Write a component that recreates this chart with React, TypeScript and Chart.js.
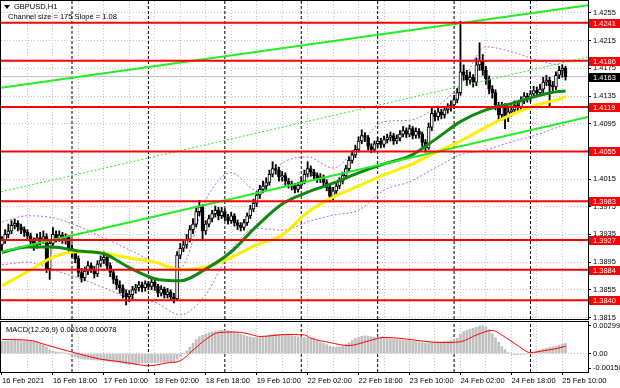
import React, { useEffect, useRef } from 'react';
import { Chart, registerables } from 'chart.js';

Chart.register(...registerables);

const FONT_FAMILY = '"Liberation Sans", Arial, sans-serif';
const FONT_SIZE = 7.5;

// ---------------- data ----------------
const titleText = 'GBPUSD,H1';
const channelText = 'Channel size = 175 Slope = 1.08';
const macdText = 'MACD(12,26,9) 0.00108 0.00078';

const firstOpen = 1.392;
const closes = [
  1.3927, 1.3935, 1.3940, 1.3948, 1.3951, 1.3946, 1.3942, 1.3938, 1.3933, 1.3925,
  1.3920, 1.3930, 1.3928, 1.3932, 1.3885, 1.3922, 1.3935, 1.3930, 1.3934, 1.3928,
  1.3931, 1.3915, 1.3908, 1.3900, 1.3880, 1.3872, 1.3882, 1.3890, 1.3885, 1.3878,
  1.3892, 1.3898, 1.3902, 1.3890, 1.3880, 1.3870, 1.3862, 1.3858, 1.3850, 1.3845,
  1.3848, 1.3855, 1.3858, 1.3862, 1.3858, 1.3864, 1.3860, 1.3866, 1.3860, 1.3850,
  1.3856, 1.3848, 1.3852, 1.3845, 1.3842, 1.3905, 1.3915, 1.3920, 1.3928, 1.3942,
  1.3950, 1.3968, 1.3975, 1.3940, 1.3950, 1.3958, 1.3965, 1.3970, 1.3962, 1.3968,
  1.3960, 1.3955, 1.3962, 1.3952, 1.3948, 1.3945, 1.3952, 1.3962, 1.3972, 1.3980,
  1.3992, 1.4000, 1.4005, 1.4010, 1.4022, 1.4030, 1.4028, 1.4018, 1.4020, 1.4012,
  1.4008, 1.4005, 1.4000, 1.4006, 1.4012, 1.4022, 1.4030, 1.4025, 1.4020, 1.4015,
  1.4018, 1.4010, 1.4003, 1.3990, 1.3998, 1.4005, 1.4012, 1.4020, 1.4030, 1.4042,
  1.4050, 1.4058, 1.4070, 1.4078, 1.4075, 1.4062, 1.4058, 1.4066, 1.4070, 1.4065,
  1.4072, 1.4075, 1.4078, 1.4070, 1.4074, 1.4080, 1.4085, 1.4080, 1.4088, 1.4078,
  1.4084, 1.4080, 1.4068, 1.4060, 1.4090, 1.4110, 1.4105, 1.4112, 1.4108, 1.4115,
  1.4118, 1.4122, 1.4130, 1.4140, 1.4170, 1.4165, 1.4158, 1.4162, 1.4155, 1.4180,
  1.4185, 1.4172, 1.4160, 1.4145, 1.4140, 1.4122, 1.4108, 1.4120, 1.4105, 1.4112,
  1.4115, 1.4122, 1.4118, 1.4128, 1.4135, 1.4132, 1.4138, 1.4143, 1.4140, 1.4145,
  1.4155, 1.4158, 1.4150, 1.4148, 1.4165, 1.4172, 1.4175, 1.4163,
];
const highs = [
  1.3932, 1.3942, 1.3950, 1.3955, 1.3957, 1.3955, 1.3950, 1.3946, 1.3942, 1.3937,
  1.3930, 1.3936, 1.3938, 1.3940, 1.3936, 1.3928, 1.3945, 1.3940, 1.3940, 1.3938,
  1.3936, 1.3934, 1.3920, 1.3912, 1.3904, 1.3886, 1.3888, 1.3896, 1.3894, 1.3889,
  1.3897, 1.3904, 1.3910, 1.3906, 1.3894, 1.3884, 1.3875, 1.3868, 1.3862, 1.3855,
  1.3854, 1.3860, 1.3863, 1.3867, 1.3866, 1.3868, 1.3867, 1.3870, 1.3869, 1.3863,
  1.3861, 1.3859, 1.3857, 1.3855, 1.3850, 1.3910, 1.3922, 1.3928, 1.3935, 1.3948,
  1.3958, 1.3975, 1.3984, 1.3978, 1.3955, 1.3963, 1.3970, 1.3976, 1.3974, 1.3974,
  1.3972, 1.3964, 1.3967, 1.3965, 1.3956, 1.3952, 1.3957, 1.3966, 1.3977, 1.3986,
  1.3997, 1.4006, 1.4012, 1.4017, 1.4028, 1.4040, 1.4036, 1.4032, 1.4026, 1.4024,
  1.4016, 1.4012, 1.4009, 1.4010, 1.4018, 1.4028, 1.4040, 1.4034, 1.4029, 1.4024,
  1.4023, 1.4021, 1.4014, 1.4006, 1.4003, 1.4010, 1.4017, 1.4025, 1.4035, 1.4047,
  1.4056, 1.4064, 1.4076, 1.4086, 1.4082, 1.4078, 1.4066, 1.4070, 1.4075, 1.4074,
  1.4077, 1.4080, 1.4083, 1.4081, 1.4079, 1.4085, 1.4091, 1.4089, 1.4093, 1.4091,
  1.4089, 1.4088, 1.4083, 1.4072, 1.4096, 1.4118, 1.4114, 1.4118, 1.4116, 1.4120,
  1.4124, 1.4128, 1.4136, 1.4146, 1.4243, 1.4180, 1.4172, 1.4170, 1.4166, 1.4190,
  1.4212, 1.4195, 1.4178, 1.4164, 1.4150, 1.4144, 1.4126, 1.4126, 1.4124, 1.4118,
  1.4121, 1.4128, 1.4126, 1.4134, 1.4140, 1.4139, 1.4143, 1.4149, 1.4148, 1.4152,
  1.4162, 1.4165, 1.4162, 1.4156, 1.4170, 1.4178, 1.4180, 1.4178,
];
const lows = [
  1.3912, 1.3922, 1.3930, 1.3936, 1.3943, 1.3940, 1.3936, 1.3932, 1.3926, 1.3918,
  1.3912, 1.3915, 1.3920, 1.3922, 1.3880, 1.3870, 1.3915, 1.3924, 1.3925, 1.3922,
  1.3921, 1.3910, 1.3902, 1.3894, 1.3874, 1.3866, 1.3868, 1.3877, 1.3880, 1.3872,
  1.3874, 1.3888, 1.3893, 1.3884, 1.3874, 1.3864, 1.3856, 1.3850, 1.3843, 1.3833,
  1.3838, 1.3842, 1.3850, 1.3853, 1.3852, 1.3853, 1.3855, 1.3855, 1.3854, 1.3845,
  1.3846, 1.3843, 1.3843, 1.3840, 1.3836, 1.3840, 1.3900, 1.3910, 1.3915, 1.3924,
  1.3936, 1.3946, 1.3962, 1.3926, 1.3935, 1.3946, 1.3953, 1.3960, 1.3956, 1.3958,
  1.3955, 1.3950, 1.3951, 1.3947, 1.3942, 1.3940, 1.3941, 1.3948, 1.3958, 1.3968,
  1.3975, 1.3987, 1.3995, 1.4000, 1.4006, 1.4018, 1.4022, 1.4012, 1.4012, 1.4006,
  1.4002, 1.3999, 1.3995, 1.3996, 1.4002, 1.4008, 1.4018, 1.4019, 1.4014, 1.4010,
  1.4010, 1.4005, 1.3998, 1.3982, 1.3985, 1.3994, 1.4001, 1.4008, 1.4016, 1.4026,
  1.4038, 1.4046, 1.4054, 1.4066, 1.4069, 1.4057, 1.4053, 1.4054, 1.4061, 1.4060,
  1.4061, 1.4067, 1.4070, 1.4065, 1.4066, 1.4070, 1.4076, 1.4075, 1.4076, 1.4073,
  1.4074, 1.4074, 1.4062, 1.4054, 1.4058, 1.4085, 1.4099, 1.4100, 1.4102, 1.4103,
  1.4110, 1.4113, 1.4117, 1.4125, 1.4136, 1.4158, 1.4150, 1.4152, 1.4148, 1.4150,
  1.4172, 1.4165, 1.4152, 1.4138, 1.4132, 1.4115, 1.4098, 1.4100, 1.4088, 1.4098,
  1.4106, 1.4110, 1.4112, 1.4113, 1.4124, 1.4126, 1.4127, 1.4133, 1.4134, 1.4135,
  1.4140, 1.4150, 1.4120, 1.4140, 1.4144, 1.4160, 1.4162, 1.4158,
];

// moving averages / bands read at every 8th bar
const maIdx = [0, 8, 16, 24, 32, 40, 48, 56, 64, 72, 80, 88, 96, 104, 112, 120, 128, 136, 144, 152, 160, 168, 176, 177];
const maGreen = [1.3909, 1.3917, 1.3917, 1.3911, 1.3907, 1.3887, 1.3871, 1.3868, 1.3885, 1.3910, 1.3947, 1.3979, 1.3996, 1.4009, 1.4024, 1.4037, 1.4048, 1.4072, 1.4098, 1.4115, 1.4124, 1.4135, 1.4142, 1.4142];
const maYellow = [1.3861, 1.3881, 1.3902, 1.3910, 1.3908, 1.3901, 1.3895, 1.3884, 1.3888, 1.3902, 1.3920, 1.3934, 1.3967, 1.3989, 1.4005, 1.4021, 1.4035, 1.4053, 1.4070, 1.4090, 1.4108, 1.4122, 1.4132, 1.4134];
const bandUpper = [1.3953, 1.3962, 1.3959, 1.3947, 1.3930, 1.3913, 1.3895, 1.3887, 1.3985, 1.4024, 1.3999, 1.4038, 1.4047, 1.4031, 1.4064, 1.4098, 1.4100, 1.4118, 1.4151, 1.4206, 1.4199, 1.4187, 1.4180, 1.4180];
const bandLower = [1.3891, 1.3895, 1.3884, 1.3872, 1.3858, 1.3843, 1.3837, 1.3819, 1.3848, 1.3913, 1.3944, 1.3941, 1.3953, 1.3963, 1.3970, 1.3999, 1.4011, 1.4031, 1.4050, 1.4057, 1.4069, 1.4079, 1.4092, 1.4093];

// channel (regression) lines: endpoints
const channelIdx = [-0.3, 184.06];
const channelUpper = [1.41468, 1.4266];
const channelMid = [1.39966, 1.41914];
const channelLower = [1.39099, 1.41047];

// horizontal levels
const levels = [1.4241, 1.4186, 1.4119, 1.4055, 1.3983, 1.3927, 1.3884, 1.384];
const bidPrice = 1.4163;

// MACD
const macdHist = [
  0.0013, 0.00132, 0.00135, 0.00138, 0.0014, 0.0014, 0.00138, 0.00136, 0.00134, 0.00132, 0.00128, 0.0012,
  0.00105, 0.0009, 0.0007,
  0.0004, 0.00025, 0.00018, 0.00012, 0.0001, 0.00008,
  -0.0001, -0.00025, -0.00035, -0.00045,
  -0.00055, -0.0006, -0.00062, -0.00065, -0.00068, -0.0007, -0.00072,
  -0.00075, -0.0008, -0.00085, -0.0009, -0.00095, -0.001, -0.00105, -0.0011, -0.00112, -0.0011,
  -0.00108, -0.00105, -0.00102, -0.001, -0.001, -0.00098, -0.00096,
  -0.00095, -0.00093, -0.00092, -0.0009, -0.0009, -0.00088,
  -0.0006, -0.0003, 0.0, 0.0003,
  0.0007, 0.0011, 0.0015, 0.0018,
  0.00195, 0.0021, 0.00222, 0.00232, 0.0024,
  0.00245, 0.00248, 0.00248, 0.00245, 0.00238,
  0.00228, 0.00218, 0.00205, 0.00195, 0.00185,
  0.00178, 0.00172, 0.0017, 0.00172,
  0.00178, 0.00188, 0.00198, 0.00205, 0.00208,
  0.00205, 0.00202, 0.00198, 0.00195, 0.0019, 0.00185, 0.0018,
  0.00175, 0.00172, 0.0017, 0.00165, 0.00155, 0.0014,
  0.00125, 0.0011, 0.00095, 0.0008, 0.0007,
  0.00068, 0.00072, 0.0008, 0.00095,
  0.00115, 0.0014, 0.0016, 0.00175, 0.00185,
  0.0019, 0.00188, 0.0018, 0.00175, 0.00172,
  0.0017, 0.00165, 0.0016, 0.00158, 0.00155, 0.0015,
  0.00148, 0.00145, 0.00142, 0.00138, 0.00135, 0.0013, 0.00125,
  0.00118, 0.00112, 0.00115, 0.0012, 0.00125,
  0.00128, 0.0013, 0.00132, 0.00135, 0.0014,
  0.0015, 0.00165, 0.0021, 0.00235,
  0.0025, 0.00262, 0.00272, 0.00282, 0.00295,
  0.00299, 0.00285, 0.00255,
  0.00215, 0.0017, 0.0012, 0.00075,
  0.0004, 0.0001, -0.00008,
  -0.00012, -0.0001, -0.00008, -0.00005,
  0.0, 0.00008, 0.00018, 0.00028,
  0.00038, 0.00048, 0.00058, 0.00065,
  0.00072, 0.0008, 0.0009, 0.001, 0.00108,
];
const sigIdx = [0, 9, 13, 18, 24, 31, 37, 43, 46, 52, 56, 60, 64, 68, 73, 77, 81, 85, 89, 95, 97, 103, 109, 115, 120, 126, 132, 138, 144, 149, 154, 157, 162, 166, 170, 174, 177];
const sigVals = [0.00151, 0.00141, 0.00102, 0.00053, -0.00002, -0.0006, -0.00086, -0.00119, -0.00131, -0.00099, -0.00077, 0.00037, 0.00151, 0.00225, 0.00231, 0.00215, 0.00183, 0.00192, 0.00205, 0.00199, 0.00166, 0.00118, 0.00086, 0.00134, 0.00173, 0.0016, 0.00134, 0.00118, 0.00127, 0.00199, 0.00248, 0.00199, 0.00086, 0.00011, 0.0003, 0.00053, 0.00078];

// axes
const XMIN = -0.3;
const XMAX = 184.06;
const PMIN = 1.38128;
const PMAX = 1.42723;
const MMIN = -0.00197;
const MMAX = 0.00338;
const priceTicks = [1.3815, 1.3855, 1.3895, 1.3935, 1.3975, 1.4015, 1.4055, 1.4095, 1.4135, 1.4175, 1.4215, 1.4255];
const priceTickLabels = ['1.3815', '1.3855', '1.3895', '1.3935', '1.3975', '1.4015', '1.4055', '1.4095', '1.4135', '1.4175', '1.4215', '1.4255'];
const macdTicks = [-0.00158, 0, 0.00299];
const macdTickLabels = ['-0.00158', '0.00', '0.00299'];
const dateTickIdx = [0, 16, 32, 48, 64, 80, 96, 112, 128, 144, 160, 176];
const dateTickLabels = ['16 Feb 2021', '16 Feb 18:00', '17 Feb 10:00', '18 Feb 02:00', '18 Feb 18:00', '19 Feb 10:00', '22 Feb 02:00', '22 Feb 18:00', '23 Feb 10:00', '24 Feb 02:00', '24 Feb 18:00', '25 Feb 10:00'];
const gridIdx = [8, 16, 24, 32, 40, 48, 56, 64, 72, 80, 88, 96, 104, 112, 120, 128, 136, 144, 152, 160, 168, 176];
const daySepIdx = [22, 46, 70, 94, 118, 142, 166];

// ---------------- layout ----------------
const W = 620;
const MAIN_H = 320;
const MACD_TOP = 321;
const MACD_H = 67;
const AXIS_W = 32;
const GRID = '#c4c4c4';

const font = { family: FONT_FAMILY, size: FONT_SIZE };
const fontStr = `${FONT_SIZE}px ${FONT_FAMILY}`;

function lineDs(xs: number[], ys: (number | null)[], color: string, width: number, order: number, extra: any = {}) {
  return {
    type: 'line',
    data: xs.map((x, i) => ({ x, y: ys[i] })),
    borderColor: color,
    borderWidth: width,
    pointRadius: 0,
    fill: false,
    tension: 0,
    order,
    ...extra,
  };
}

function sepDs(ymin: number, ymax: number) {
  const data: any[] = [];
  daySepIdx.forEach((i) => {
    data.push({ x: i, y: ymin }, { x: i, y: ymax }, { x: i, y: null });
  });
  return {
    type: 'line',
    data,
    borderColor: '#000',
    borderWidth: 1,
    borderDash: [3, 2],
    pointRadius: 0,
    spanGaps: false,
    fill: false,
    order: 20,
  };
}

const mainDecor = {
  id: 'mainDecor',
  afterDraw(chart: any) {
    const { ctx, chartArea: a } = chart;
    const y = chart.scales.y;
    ctx.save();
    ctx.strokeStyle = '#000';
    ctx.lineWidth = 1;
    ctx.strokeRect(a.left - 0.5, a.top - 0.5, a.right - a.left + 1, a.bottom - a.top + 1);
    ctx.font = fontStr;
    ctx.textBaseline = 'middle';
    ctx.textAlign = 'left';
    const tag = (v: number, bg: string) => {
      const py = y.getPixelForValue(v);
      ctx.fillStyle = bg;
      ctx.fillRect(a.right + 1, Math.round(py) - 4, AXIS_W - 1, 9);
      ctx.fillStyle = '#fff';
      ctx.fillText(v.toFixed(4), a.right + 5, Math.round(py) + 0.5);
    };
    levels.forEach((l) => tag(l, '#ff0000'));
    tag(bidPrice, '#000');
    ctx.fillStyle = '#000';
    ctx.fillText(titleText, 14, 7);
    ctx.fillText(channelText, 8, 17);
    ctx.beginPath();
    ctx.moveTo(4, 5);
    ctx.lineTo(10, 5);
    ctx.lineTo(7, 9);
    ctx.closePath();
    ctx.fill();
    ctx.restore();
  },
};

const macdDecor = {
  id: 'macdDecor',
  afterDraw(chart: any) {
    const { ctx, chartArea: a } = chart;
    ctx.save();
    ctx.strokeStyle = '#000';
    ctx.lineWidth = 1;
    ctx.strokeRect(a.left - 0.5, a.top - 0.5, a.right - a.left + 1, a.bottom - a.top + 1);
    ctx.font = fontStr;
    ctx.textBaseline = 'middle';
    ctx.textAlign = 'left';
    ctx.fillStyle = '#000';
    ctx.fillText(macdText, 6, 9);
    ctx.restore();
  },
};

function App() {
  const mainRef = useRef<HTMLCanvasElement>(null);
  const macdRef = useRef<HTMLCanvasElement>(null);

  useEffect(() => {
    Chart.defaults.color = '#000';
    Chart.defaults.font.family = FONT_FAMILY;
    Chart.defaults.font.size = FONT_SIZE;

    const opens = closes.map((c, i) => (i === 0 ? firstOpen : closes[i - 1]));
    const bodyColors = closes.map((c, i) => (c >= opens[i] ? '#ffffff' : '#000000'));

    const mainDatasets: any[] = [
      sepDs(PMIN, PMAX),
      lineDs([XMIN, XMAX], [bidPrice, bidPrice], '#c0c0c0', 1, 19),
      lineDs(maIdx, bandUpper, '#b566d8', 1, 18, { borderDash: [2, 2], cubicInterpolationMode: 'monotone' }),
      lineDs(maIdx, bandLower, '#b566d8', 1, 18, { borderDash: [2, 2], cubicInterpolationMode: 'monotone' }),
      {
        type: 'bar',
        data: closes.map((c, i) => ({ x: i, y: [lows[i], highs[i]] })),
        backgroundColor: '#000',
        borderWidth: 0,
        barThickness: 1.2,
        grouped: false,
        order: 17,
      },
      {
        type: 'bar',
        data: closes.map((c, i) => ({ x: i, y: [opens[i], c] })),
        backgroundColor: bodyColors,
        borderColor: '#000',
        borderWidth: 1,
        borderSkipped: false,
        barThickness: 3,
        minBarLength: 1,
        grouped: false,
        order: 16,
      },
      lineDs(maIdx, maYellow, '#ffee00', 3, 15, { cubicInterpolationMode: 'monotone' }),
      lineDs(maIdx, maGreen, '#118811', 3, 14, { cubicInterpolationMode: 'monotone' }),
      lineDs(channelIdx, channelUpper, '#22ee22', 2, 13),
      lineDs(channelIdx, channelMid, '#22ee22', 1, 13, { borderDash: [2, 2] }),
      lineDs(channelIdx, channelLower, '#22ee22', 2, 13),
      ...levels.map((l) => lineDs([XMIN, XMAX], [l, l], '#ff0000', 2, 12)),
    ];

    const mainChart = new Chart(mainRef.current as HTMLCanvasElement, {
      type: 'line',
      data: { datasets: mainDatasets },
      options: {
        responsive: false,
        animation: false,
        devicePixelRatio: 1,
        events: [],
        layout: { padding: { left: 1, top: 1, right: 0, bottom: 1 } },
        plugins: { legend: { display: false }, tooltip: { enabled: false } },
        scales: {
          x: {
            type: 'linear',
            min: XMIN,
            max: XMAX,
            offset: false,
            afterBuildTicks: (s: any) => {
              s.ticks = gridIdx.map((v) => ({ value: v }));
            },
            ticks: { display: false },
            grid: { color: GRID, lineWidth: 1, drawTicks: false, offset: false },
            border: { display: false, dash: [1, 2] },
            afterFit: (s: any) => {
              s.height = 0;
              s.paddingLeft = 0;
              s.paddingRight = 0;
            },
          },
          y: {
            type: 'linear',
            position: 'right',
            min: PMIN,
            max: PMAX,
            afterBuildTicks: (s: any) => {
              s.ticks = priceTicks.map((v) => ({ value: v }));
            },
            ticks: {
              font,
              color: '#000',
              padding: 2,
              autoSkip: false,
              callback: (_v: any, i: number) => priceTickLabels[i],
            },
            grid: { color: GRID, tickColor: '#000', tickLength: 3, tickBorderDash: [] },
            border: { display: false, dash: [1, 2] },
            afterFit: (s: any) => {
              s.width = AXIS_W;
              s.paddingTop = 0;
              s.paddingBottom = 0;
            },
          },
        },
      } as any,
      plugins: [mainDecor],
    } as any);

    const macdDatasets: any[] = [
      sepDs(MMIN, MMAX),
      {
        type: 'bar',
        data: macdHist.map((v, i) => ({ x: i, y: [0, v] })),
        backgroundColor: '#c0c0c0',
        borderWidth: 0,
        barThickness: 2,
        grouped: false,
        order: 10,
      },
      lineDs(sigIdx, sigVals, '#ff0000', 1, 5, { cubicInterpolationMode: 'monotone' }),
    ];

    const macdChart = new Chart(macdRef.current as HTMLCanvasElement, {
      type: 'line',
      data: { datasets: macdDatasets },
      options: {
        responsive: false,
        animation: false,
        devicePixelRatio: 1,
        events: [],
        layout: { padding: { left: 1, top: 1, right: 0, bottom: 0 } },
        plugins: { legend: { display: false }, tooltip: { enabled: false } },
        scales: {
          x: {
            type: 'linear',
            min: XMIN,
            max: XMAX,
            offset: false,
            afterBuildTicks: (s: any) => {
              s.ticks = [0, ...gridIdx].map((v) => ({ value: v }));
            },
            ticks: {
              font,
              color: '#000',
              align: 'start',
              autoSkip: false,
              maxRotation: 0,
              minRotation: 0,
              padding: 1,
              callback: (v: any) => {
                const k = dateTickIdx.indexOf(v);
                return k >= 0 ? dateTickLabels[k] : '';
              },
            },
            grid: {
              color: (c: any) => (c.tick && c.tick.value === 0 ? 'rgba(0,0,0,0)' : GRID),
              tickColor: (c: any) => (c.tick && dateTickIdx.indexOf(c.tick.value) >= 0 ? '#000' : 'rgba(0,0,0,0)'),
              tickLength: 3,
              tickBorderDash: [],
              offset: false,
            },
            border: { display: false, dash: [1, 2] },
            afterFit: (s: any) => {
              s.height = 16;
              s.paddingLeft = 0;
              s.paddingRight = 0;
            },
          },
          y: {
            type: 'linear',
            position: 'right',
            min: MMIN,
            max: MMAX,
            afterBuildTicks: (s: any) => {
              s.ticks = macdTicks.map((v) => ({ value: v }));
            },
            ticks: {
              font,
              color: '#000',
              padding: 2,
              autoSkip: false,
              callback: (_v: any, i: number) => macdTickLabels[i],
            },
            grid: {
              color: (c: any) => (c.tick && c.tick.value === 0 ? GRID : 'rgba(0,0,0,0)'),
              tickColor: '#000',
              tickLength: 3,
              tickBorderDash: [],
            },
            border: { display: false, dash: [1, 2] },
            afterFit: (s: any) => {
              s.width = AXIS_W;
              s.paddingTop = 0;
              s.paddingBottom = 0;
            },
          },
        },
      } as any,
      plugins: [macdDecor],
    } as any);

    return () => {
      mainChart.destroy();
      macdChart.destroy();
    };
  }, []);

  return (
    <div style={{ position: 'fixed', left: 0, top: 0, width: W, height: 388, background: '#fff' }}>
      <canvas ref={mainRef} width={W} height={MAIN_H} style={{ position: 'absolute', left: 0, top: 0 }} />
      <canvas ref={macdRef} width={W} height={MACD_H} style={{ position: 'absolute', left: 0, top: MACD_TOP }} />
    </div>
  );
}

export default App;
